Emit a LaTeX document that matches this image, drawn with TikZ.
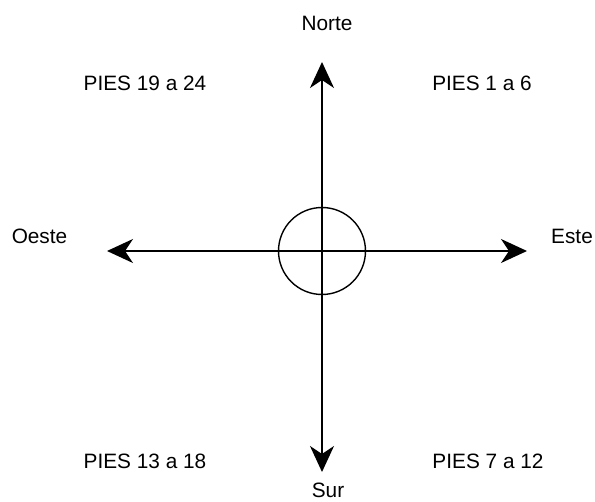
\documentclass[tikz,border=0pt]{standalone}
\usepackage{fontspec}
\setmainfont{Liberation Sans}
\usetikzlibrary{arrows.meta}

\begin{document}
\begin{tikzpicture}[x=1pt,y=-1pt,
    eje/.style={line width=1.6pt, {Stealth[length=26pt,width=24pt,inset=8pt]}-{Stealth[length=26pt,width=24pt,inset=8pt]}},
    rotulo/.style={font=\fontsize{20.8}{24}\selectfont, inner sep=0pt}]
    \useasboundingbox (0,0) rectangle (595,502);
    \node (centro) [draw, circle, line width=1.4pt, minimum size=87pt, inner sep=0pt] at (322,251) {};
    % puntas de los ejes
    \coordinate (n) at (322,62);
    \coordinate (s) at (322,472);
    \coordinate (o) at (107,251);
    \coordinate (e) at (527,251);
    \draw[eje] (n) -- (s);
    \draw[eje] (o) -- (e);
    % puntos cardinales
    \node (norte) [rotulo] at (327,23) {Norte};
    \node (sur) [rotulo] at (328,490) {Sur};
    \node (oeste) [rotulo] at (39.5,236) {Oeste};
    \node (este) [rotulo] at (572,236) {Este};
    % cuadrantes
    \node (q1) [rotulo] at (482,83.5) {PIES 1 a 6};
    \node (q2) [rotulo] at (488,461.5) {PIES 7 a 12};
    \node (q3) [rotulo] at (145,461.5) {PIES 13 a 18};
    \node (q4) [rotulo] at (145,83.5) {PIES 19 a 24};
\end{tikzpicture}
\end{document}
